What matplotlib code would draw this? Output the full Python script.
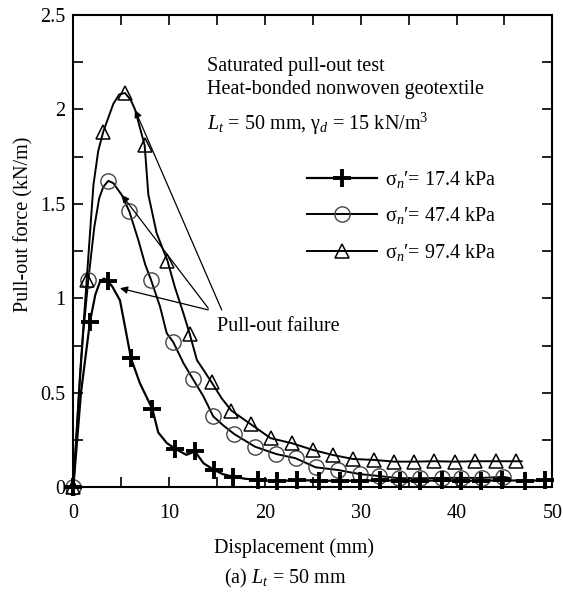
import matplotlib
matplotlib.use("Agg")
import matplotlib.pyplot as plt
from matplotlib.ticker import MultipleLocator

plt.rcParams["font.family"] = ["Liberation Serif", "DejaVu Serif"]
plt.rcParams["mathtext.fontset"] = "custom"
plt.rcParams["mathtext.rm"] = "Liberation Serif"
plt.rcParams["mathtext.it"] = "Liberation Serif:italic"
plt.rcParams["font.size"] = 14.5

# sigma_n' = 17.4 kPa
x_17 = [0.0, 0.8, 1.74, 2.3, 2.8, 3.2, 3.65, 4.1, 4.87, 5.4, 6.02, 6.96, 8.25,
        8.87, 9.75, 10.6, 11.8, 12.7, 13.6, 14.7, 15.6, 16.7, 18.0, 19.3, 21.3,
        23.3, 25.6, 27.8, 29.9, 32.0, 34.1, 36.2, 38.5, 40.5, 42.6, 44.8, 47.2,
        49.2, 50.0]
y_17 = [0.0, 0.5, 0.877, 1.02, 1.09, 1.105, 1.09, 1.06, 0.99, 0.85, 0.683, 0.55,
        0.415, 0.29, 0.235, 0.205, 0.172, 0.19, 0.127, 0.092, 0.07, 0.056, 0.045,
        0.039, 0.032, 0.039, 0.035, 0.035, 0.035, 0.037, 0.035, 0.035, 0.037,
        0.035, 0.035, 0.037, 0.035, 0.037, 0.036]
mark_17 = [0, 2, 6, 10, 12, 15, 17, 19, 21] + list(range(23, 38))

# sigma_n' = 47.4 kPa
x_47 = [0.0, 0.6, 1.04, 1.57, 2.2, 2.7, 3.13, 3.65, 4.18, 5.05, 5.85, 6.78, 7.5,
        8.1, 9.05, 9.75, 10.44, 11.5, 12.5, 13.6, 14.6, 15.6, 16.8, 18.97, 21.2,
        23.2, 25.3, 27.6, 29.9, 31.9, 34.0, 36.2, 38.5, 40.5, 42.7, 44.9, 45.5]
y_47 = [0.0, 0.5, 0.82, 1.10, 1.38, 1.53, 1.59, 1.622, 1.61, 1.548, 1.46, 1.31,
        1.18, 1.10, 0.957, 0.816, 0.768, 0.657, 0.572, 0.48, 0.376, 0.33, 0.282,
        0.215, 0.176, 0.154, 0.106, 0.092, 0.070, 0.060, 0.048, 0.048, 0.05,
        0.05, 0.05, 0.055, 0.05]
mark_47 = [0, 3, 7, 10, 13, 16, 18, 20] + list(range(22, 36))

# sigma_n' = 97.4 kPa
x_97 = [0.0, 0.7, 1.40, 2.1, 2.6, 3.13, 4.18, 4.8, 5.40, 6.0, 6.44, 7.45, 7.83,
        8.7, 9.83, 10.6, 11.5, 12.15, 12.9, 14.45, 15.5, 16.5, 18.5, 20.6, 22.85,
        25.0, 27.1, 29.2, 31.4, 33.5, 35.6, 37.7, 39.8, 41.9, 44.1, 46.2, 46.8]
y_97 = [0.0, 0.6, 1.10, 1.6, 1.78, 1.883, 2.03, 2.08, 2.087, 2.05, 2.0, 1.81,
        1.55, 1.345, 1.199, 1.06, 0.92, 0.812, 0.674, 0.555, 0.47, 0.406, 0.335,
        0.26, 0.233, 0.198, 0.171, 0.150, 0.145, 0.136, 0.136, 0.138, 0.136,
        0.138, 0.138, 0.138, 0.138]
mark_97 = [0, 2, 5, 8, 11, 14, 17, 19] + list(range(21, 36))

labels = ["σ$_{n}$′= 17.4 kPa", "σ$_{n}$′= 47.4 kPa", "σ$_{n}$′= 97.4 kPa"]

# arrow heads at the peaks, tails near the label
failure_heads = [(4.87, 1.054), (5.05, 1.548), (6.44, 1.998)]
failure_tails = [(14.09, 0.939), (14.09, 0.948), (15.49, 0.939)]

fig = plt.figure(figsize=(5.63, 5.93), dpi=100)
ax = fig.add_axes([0.1302, 0.1782, 0.8508, 0.7965])

ax.plot(x_17, y_17, color="black", lw=1.6, marker="+", ms=13, mew=2.8,
        markevery=mark_17, label=labels[0], clip_on=False, zorder=4)
ax.plot(x_47, y_47, color="black", lw=1.4, marker="o", ms=11, mew=1.0,
        mfc="none", mec="#444444", markevery=mark_47, label=labels[1],
        clip_on=False, zorder=3)
ax.plot(x_97, y_97, color="black", lw=1.4, marker="^", ms=10, mew=1.1,
        mfc="none", mec="black", markevery=mark_97, label=labels[2],
        clip_on=False, zorder=3)

for head, tail in zip(failure_heads, failure_tails):
    ax.annotate("", xy=head, xytext=tail,
                arrowprops=dict(arrowstyle="-|>", lw=0.9, color="black",
                                mutation_scale=11, shrinkA=0, shrinkB=0))
ax.text(14.98, 0.849, "Pull-out failure", va="center", ha="left")

ax.text(13.95, 2.201, "Saturated pull-out test", va="baseline")
ax.text(13.95, 2.082, "Heat-bonded nonwoven geotextile", va="baseline")
ax.text(13.95, 1.892, "$L_t$ = 50 mm, γ$_d$ = 15 kN/m$^3$", va="baseline")

ax.legend(loc="upper left", bbox_to_anchor=(0.487, 0.674), frameon=False,
          borderpad=0, borderaxespad=0, handlelength=3.48, handletextpad=0.41,
          labelspacing=0.76, markerscale=1.0)

ax.set_xlim(0, 50)
ax.set_ylim(0, 2.5)
ax.xaxis.set_major_locator(MultipleLocator(10))
ax.xaxis.set_minor_locator(MultipleLocator(5))
ax.yaxis.set_minor_locator(MultipleLocator(0.25))
ax.set_yticks([0, 0.5, 1, 1.5, 2, 2.5])
ax.set_yticklabels(["0", "0.5", "1", "1.5", "2", "2.5"])
ax.tick_params(which="both", direction="in", top=True, right=True,
               length=7, width=1.2)
ax.tick_params(axis="x", pad=12)
ax.tick_params(axis="y", pad=6)
for s in ax.spines.values():
    s.set_linewidth(1.5)

ax.set_ylabel("Pull-out force (kN/m)")
ax.yaxis.set_label_coords(-0.084, 0.556)
fig.text(294 / 563, 1 - 553 / 593, "Displacement (mm)", ha="center", va="baseline")
fig.text(285.5 / 563, 1 - 583 / 593, "(a) $L_t$ = 50 mm", ha="center", va="baseline")

fig.savefig("out.png", dpi=100)
